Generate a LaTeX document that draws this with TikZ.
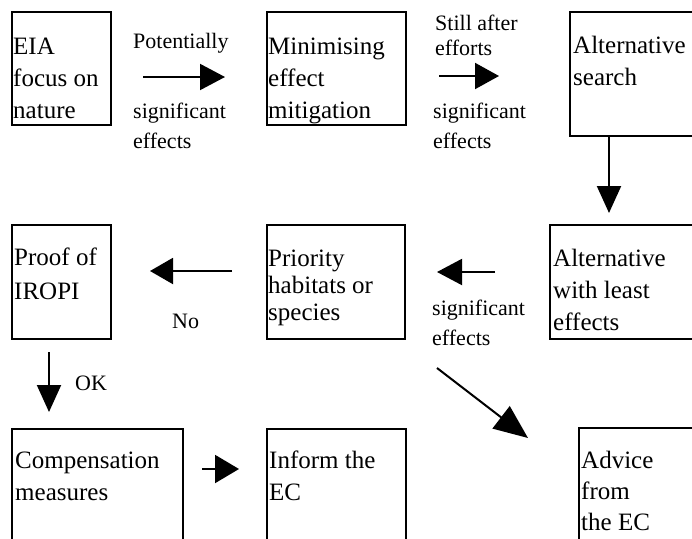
\documentclass[tikz,border=0pt]{standalone}
\usepackage{fontspec}
\setmainfont{Liberation Serif}
\usetikzlibrary{arrows.meta}
\begin{document}
\begin{tikzpicture}[x=1pt, y=-1pt,
  box/.style={draw, line width=2.2pt, inner sep=0pt, anchor=north west},
  boxtext/.style={inner sep=0pt, anchor=base west, align=left, font=\fontsize{25}{32}\selectfont},
  lbl/.style={inner sep=0pt, anchor=base west, align=left, font=\fontsize{22}{30}\selectfont},
  arr/.style={line width=2pt, -{Triangle[length=25pt,width=26pt]}}]
  \useasboundingbox (0,0) rectangle (692,538);
  \clip (0,0) rectangle (692,538);
  % boxes
  \node[box,minimum width=99pt,minimum height=113pt] (eia) at (11,11) {};
  \node[box,minimum width=139pt,minimum height=113pt] (mini) at (266,11) {};
  \node[box,minimum width=140pt,minimum height=124pt] (altsearch) at (569,11) {};
  \node[box,minimum width=160pt,minimum height=114pt] (altleast) at (549,224) {};
  \node[box,minimum width=138pt,minimum height=114pt] (prio) at (266,224) {};
  \node[box,minimum width=99pt,minimum height=114pt] (iropi) at (11,224) {};
  \node[box,minimum width=171pt,minimum height=130pt] (comp) at (11,428) {};
  \node[box,minimum width=139pt,minimum height=130pt] (inform) at (266,428) {};
  \node[box,minimum width=130pt,minimum height=130pt] (advice) at (578,427) {};
  % box texts (anchored at the last line)
  \node[boxtext] (eiatxt) at ([shift={(2,107)}]eia.north west) {EIA\\focus on\\nature};
  \node[boxtext] (minitxt) at ([shift={(2,107)}]mini.north west) {Minimising\\effect\\mitigation};
  \node[boxtext] (altsearchtxt) at ([shift={(4,74)}]altsearch.north west) {Alternative\\search};
  \node[boxtext] (altleasttxt) at ([shift={(4,106)}]altleast.north west) {Alternative\\with least\\effects};
  \node[boxtext,font=\fontsize{25}{27}\selectfont] (priotxt) at ([shift={(2,96)}]prio.north west) {Priority\\habitats or\\species};
  \node[boxtext,font=\fontsize{25}{34}\selectfont] (iropitxt) at ([shift={(3,75)}]iropi.north west) {Proof of\\IROPI};
  \node[boxtext] (comptxt) at ([shift={(4,72)}]comp.north west) {Compensation\\measures};
  \node[boxtext] (informtxt) at ([shift={(3,72)}]inform.north west) {Inform the\\EC};
  \node[boxtext,font=\fontsize{25}{31}\selectfont] (advicetxt) at ([shift={(3,103)}]advice.north west) {Advice\\from\\the EC};
  % labels
  \node[lbl] (potl) at (133,48) {Potentially};
  \node[lbl] (sig1) at (133,148) {significant\\effects};
  \node[lbl,font=\fontsize{22}{25}\selectfont] (still) at (435,55) {Still after\\efforts};
  \node[lbl] (sig2) at (433,148) {significant\\effects};
  \node[lbl] (sig3) at (432,345) {significant\\effects};
  \node[lbl] (no) at (172,328) {No};
  \node[lbl] (ok) at (75,390) {OK};
  % arrow ends
  \coordinate (a1s) at (143,77);  \coordinate (a1e) at (225,77);
  \coordinate (a2s) at (439,76);  \coordinate (a2e) at (499,76);
  \coordinate (a3s) at (609,135); \coordinate (a3e) at (609,213);
  \coordinate (a4s) at (232,271); \coordinate (a4e) at (150,271);
  \coordinate (a5s) at (495,272); \coordinate (a5e) at (437,272);
  \coordinate (a6s) at (49,352);  \coordinate (a6e) at (49,412);
  \coordinate (a7s) at (202,469); \coordinate (a7e) at (239,469);
  \coordinate (a8s) at (437,368); \coordinate (a8e) at (528,438);
  \draw[arr] (a1s) -- (a1e);
  \draw[arr,-{Triangle[length=24pt,width=26pt]}] (a2s) -- (a2e);
  \draw[arr,-{Triangle[length=27pt,width=24pt]}] (a3s) -- (a3e);
  \draw[arr,-{Triangle[length=23pt,width=26pt]}] (a4s) -- (a4e);
  \draw[arr] (a5s) -- (a5e);
  \draw[arr,-{Triangle[length=27pt,width=24pt]}] (a6s) -- (a6e);
  \draw[arr,-{Triangle[length=24pt,width=28pt]}] (a7s) -- (a7e);
  \draw[arr,-{Triangle[length=34pt,width=28pt]}] (a8s) -- (a8e);
\end{tikzpicture}
\end{document}
